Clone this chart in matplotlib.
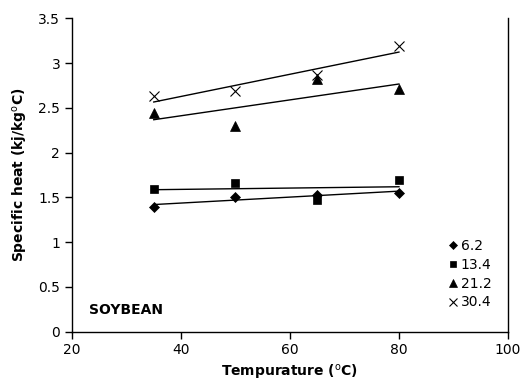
import numpy as np
import matplotlib.pyplot as plt
from matplotlib.ticker import FuncFormatter

temps = [35, 50, 65, 80]
moisture = ['6.2', '13.4', '21.2', '30.4']
heat_62 = [1.39, 1.51, 1.53, 1.55]
heat_134 = [1.59, 1.66, 1.47, 1.69]
heat_212 = [2.44, 2.30, 2.82, 2.71]
heat_304 = [2.63, 2.69, 2.87, 3.19]

series = [heat_62, heat_134, heat_212, heat_304]
markers = ['D', 's', '^', 'x']
msizes = [5, 6, 7, 7]

plt.rcParams['font.family'] = ['DejaVu Sans']

fig = plt.figure(figsize=(5.22, 3.92), dpi=100)
ax = fig.add_axes([0.138, 0.154, 0.835, 0.799])

handles = []
for ys, m, ms in zip(series, markers, msizes):
    h, = ax.plot(temps, ys, linestyle='none', marker=m, markersize=ms,
                 color='black', markeredgewidth=0.8 if m == 'x' else 0.5)
    handles.append(h)
    k, b = np.polyfit(temps, ys, 1)
    xs = np.array([temps[0], temps[-1]])
    ax.plot(xs, k * xs + b, color='black', linewidth=1.0)

ax.set_xlim(20, 100)
ax.set_ylim(0, 3.5)
ax.set_xticks(range(20, 101, 20))
ax.set_yticks(np.arange(0, 3.51, 0.5))
ax.yaxis.set_major_formatter(FuncFormatter(lambda v, p: ('%g' % v)))
ax.tick_params(direction='out', length=5, width=1, labelsize=10, colors='black')
ax.spines['top'].set_visible(False)
for s in ['left', 'bottom', 'right']:
    ax.spines[s].set_linewidth(1.0)

ax.set_xlabel('Tempurature ($^{\\rm o}$C)', fontsize=10, fontweight='bold', labelpad=4)
ax.set_ylabel('Specific heat (kj/kg$^{\\rm o}$C)', fontsize=10, fontweight='bold', labelpad=6)

ax.text(0.04, 0.07, 'SOYBEAN', transform=ax.transAxes, fontsize=10,
        fontweight='bold', va='center', ha='left')

leg = ax.legend(handles, moisture, loc='lower right', frameon=False, fontsize=10,
                handlelength=0.5, handletextpad=0.3, labelspacing=0.35,
                markerscale=0.8, bbox_to_anchor=(0.985, 0.04), borderaxespad=0.3)

fig.savefig('out.png', dpi=100)
